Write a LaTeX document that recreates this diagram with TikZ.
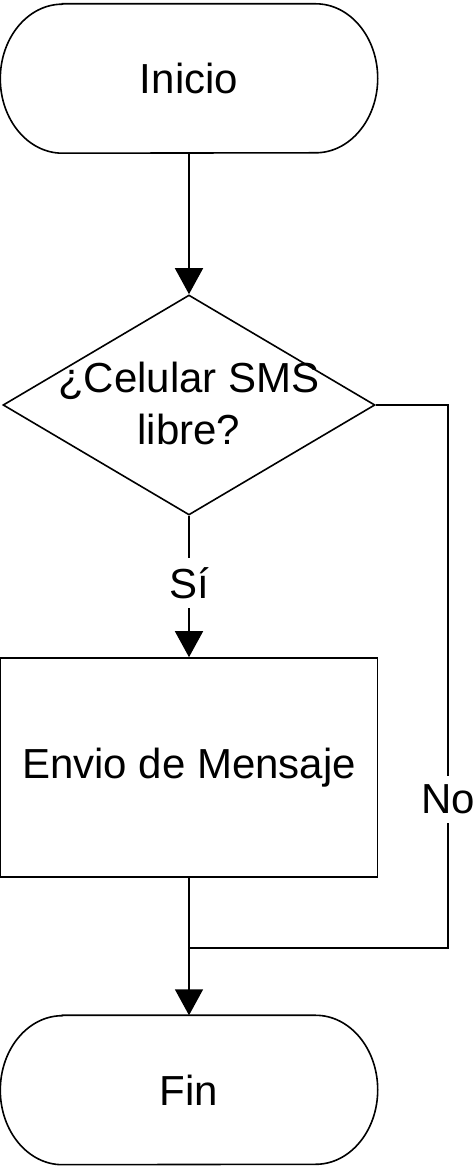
\documentclass[tikz,border=0pt]{standalone}
\usepackage{fontspec}
\setmainfont{Liberation Sans}
\usetikzlibrary{shapes.geometric,arrows.meta}
\begin{document}
\begin{tikzpicture}[x=1pt,y=1pt,
  every node/.style={font=\fontsize{42}{52}\selectfont, text=black},
  term/.style={minimum width=377pt, minimum height=149pt, inner sep=0pt},
  outline/.style={draw=black, line width=1.6pt},
  dia/.style={shape=diamond, draw=black, line width=1.6pt, minimum width=372pt, minimum height=220pt, inner sep=0pt},
  procbox/.style={rectangle, draw=black, line width=1.6pt, minimum width=377pt, minimum height=219pt, inner sep=0pt},
  txt/.style={align=center, inner sep=0pt},
  lbl/.style={fill=white, inner sep=9pt},
  conn/.style={draw=black, line width=1.6pt},
  arr/.style={conn, -{Triangle[length=26pt,width=28pt]}}
]
\useasboundingbox (0,0) rectangle (474,1173);

\node[term] (s) at (189,1094.5) {Inicio};
\node[dia] (d) at (189,768) {};
\node[txt] (dt) at (189,770) {¿Celular SMS\\libre?};
\node[procbox] (r) at (189,405.5) {Envio de Mensaje};
\node[term] (f) at (189,83) {Fin};

\foreach \n in {s,f}{
  \draw[outline] ([xshift=62pt]\n.north west) -- ([xshift=-62pt]\n.north east)
    arc[start angle=90, end angle=-90, x radius=62pt, y radius=74.5pt]
    -- ([xshift=62pt]\n.south west)
    arc[start angle=270, end angle=90, x radius=62pt, y radius=74.5pt] -- cycle;
}

\coordinate (nc) at (448,225);
\coordinate (j) at (189,225);

\draw[arr] (s.south) -- (d.north);
\draw[arr] (d.south) -- node[lbl, pos=0.475] {Sí} (r.north);
\draw[arr] (r.south) -- (f.north);
\draw[conn] (d.east) -| node[lbl, pos=0.863] {No} (nc) -- (j);
\end{tikzpicture}
\end{document}
